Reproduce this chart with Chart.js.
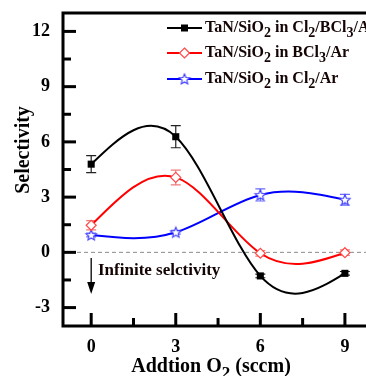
<!DOCTYPE html>
<html>
<head>
<meta charset="utf-8">
<script src="https://cdn.jsdelivr.net/npm/chart.js@4.4.0/dist/chart.umd.min.js"></script>
<style>
html, body { margin: 0; padding: 0; background: #fff; overflow: hidden; }
canvas { display: block; }
</style>
</head>
<body>
<canvas id="chart" width="366" height="376"></canvas>
<script>
// ========== DATA ==========
const o2Flow = [0, 3, 6, 9];
const mixSel = [4.79, 6.28, -1.28, -1.14];
const mixErr = [0.46, 0.6, 0.1, 0.1];
const bcl3Sel = [1.47, 4.07, -0.05, -0.02];
const bcl3Err = [0.25, 0.4, 0.15, 0.15];
const cl2Sel = [0.94, 1.09, 3.12, 2.86];
const cl2Err = [0.1, 0.1, 0.33, 0.29];
const xTicks = [0, 3, 6, 9];
const xMinor = [1.5, 4.5, 7.5];
const yTicks = [-3, 0, 3, 6, 9, 12];
const yMinor = [-1.5, 1.5, 4.5, 7.5, 10.5];
const seriesNames = ['TaN/SiO_2 in Cl_2/BCl_3/Ar', 'TaN/SiO_2 in BCl_3/Ar', 'TaN/SiO_2 in Cl_2/Ar'];

const SERIF = '"Liberation Serif", "Times New Roman", serif';

// ========== MARKERS ==========
function makeStar(r, color) {
  const c = document.createElement('canvas');
  const s = Math.ceil(r * 2 + 3);
  c.width = c.height = s;
  const g = c.getContext('2d');
  g.beginPath();
  for (let k = 0; k < 10; k++) {
    const rr = k % 2 ? r * 0.45 : r;
    const a = -Math.PI / 2 + k * Math.PI / 5;
    g.lineTo(s / 2 + rr * Math.cos(a), s / 2 + 0.5 + rr * Math.sin(a));
  }
  g.closePath();
  g.fillStyle = '#fff';
  g.fill();
  g.strokeStyle = color;
  g.lineWidth = 1.1;
  g.stroke();
  return c;
}
const starImg = makeStar(5.5, '#3a3aff');

const errColors = ['#222', '#f27a7a', '#6a6aff'];
const errValues = [mixErr, bcl3Err, cl2Err];

// ========== HELPERS ==========
function drawRich(ctx, str, x, y, size, align) {
  const bits = str.split(/_(\d)/);
  const sub = Math.round(size * 0.85);
  let total = 0;
  bits.forEach((b, i) => {
    ctx.font = 'bold ' + (i % 2 ? sub : size) + 'px ' + SERIF;
    total += ctx.measureText(b).width;
  });
  let cx = align === 'center' ? x - total / 2 : x;
  ctx.textAlign = 'left';
  ctx.textBaseline = 'alphabetic';
  bits.forEach((b, i) => {
    ctx.font = 'bold ' + (i % 2 ? sub : size) + 'px ' + SERIF;
    ctx.fillText(b, cx, y + (i % 2 ? size * 0.32 : 0));
    cx += ctx.measureText(b).width;
  });
}

function drawMarker(ctx, idx, x, y) {
  ctx.save();
  ctx.lineWidth = 1.2;
  if (idx === 0) {
    ctx.fillStyle = '#000';
    ctx.fillRect(x - 3.5, y - 3.5, 7, 7);
  } else if (idx === 1) {
    ctx.beginPath();
    ctx.moveTo(x, y - 5); ctx.lineTo(x + 5, y); ctx.lineTo(x, y + 5); ctx.lineTo(x - 5, y);
    ctx.closePath();
    ctx.fillStyle = '#fff'; ctx.fill();
    ctx.strokeStyle = '#ff4a4a'; ctx.stroke();
  } else {
    ctx.drawImage(starImg, x - starImg.width / 2, y - starImg.height / 2);
  }
  ctx.restore();
}

// ========== NATURAL SPLINE (sets bezier control points of the line) ==========
function naturalSpline(pts) {
  const n = pts.length;
  const x = pts.map(p => p.x), y = pts.map(p => p.y);
  const h = [], M = new Array(n).fill(0);
  for (let i = 0; i < n - 1; i++) h[i] = x[i + 1] - x[i];
  const a = [], b = [], c = [], d = [];
  for (let i = 1; i < n - 1; i++) {
    a[i] = h[i - 1]; b[i] = 2 * (h[i - 1] + h[i]); c[i] = h[i];
    d[i] = 6 * ((y[i + 1] - y[i]) / h[i] - (y[i] - y[i - 1]) / h[i - 1]);
  }
  for (let i = 2; i < n - 1; i++) {
    const w = a[i] / b[i - 1];
    b[i] -= w * c[i - 1];
    d[i] -= w * d[i - 1];
  }
  for (let i = n - 2; i >= 1; i--) M[i] = (d[i] - c[i] * M[i + 1]) / b[i];
  for (let i = 0; i < n - 1; i++) {
    const s = (y[i + 1] - y[i]) / h[i];
    const m0 = s - h[i] * (2 * M[i] + M[i + 1]) / 6;
    const m1 = s + h[i] * (M[i] + 2 * M[i + 1]) / 6;
    pts[i].cp2x = x[i] + h[i] / 3; pts[i].cp2y = y[i] + m0 * h[i] / 3;
    pts[i + 1].cp1x = x[i + 1] - h[i] / 3; pts[i + 1].cp1y = y[i + 1] - m1 * h[i] / 3;
  }
}

const splinePlugin = {
  id: 'spline',
  beforeDatasetDraw(chart, args) {
    const meta = args.meta;
    meta.dataset.updateControlPoints(chart.chartArea, 'x');
    naturalSpline(meta.data);
    meta.dataset._path = undefined;
  }
};

// ========== ERROR BARS, ZERO LINE, FRAME, TEXT ==========
const decorPlugin = {
  id: 'decor',
  beforeDatasetsDraw(chart) {
    const ctx = chart.ctx, xs = chart.scales.x, ys = chart.scales.y, area = chart.chartArea;
    ctx.save();
    // dashed zero line
    ctx.strokeStyle = '#8a8a8a';
    ctx.lineWidth = 1;
    ctx.setLineDash([4, 3]);
    ctx.beginPath();
    ctx.moveTo(area.left, ys.getPixelForValue(0));
    ctx.lineTo(366, ys.getPixelForValue(0));
    ctx.stroke();
    ctx.setLineDash([]);
    // error bars
    chart.data.datasets.forEach((ds, di) => {
      ctx.strokeStyle = errColors[di];
      ctx.lineWidth = 1.2;
      ds.data.forEach((p, i) => {
        const px = xs.getPixelForValue(p.x);
        const top = ys.getPixelForValue(p.y + errValues[di][i]);
        const bot = ys.getPixelForValue(p.y - errValues[di][i]);
        ctx.beginPath();
        ctx.moveTo(px, top); ctx.lineTo(px, bot);
        ctx.moveTo(px - 5, top); ctx.lineTo(px + 5, top);
        ctx.moveTo(px - 5, bot); ctx.lineTo(px + 5, bot);
        ctx.stroke();
      });
    });
    ctx.restore();
  },
  afterDraw(chart) {
    const ctx = chart.ctx, xs = chart.scales.x, ys = chart.scales.y, area = chart.chartArea;
    ctx.save();
    ctx.strokeStyle = '#000';
    ctx.fillStyle = '#000';
    // frame
    ctx.lineWidth = 3;
    ctx.beginPath();
    ctx.moveTo(366, area.top);
    ctx.lineTo(area.left, area.top);
    ctx.lineTo(area.left, area.bottom);
    ctx.lineTo(366, area.bottom);
    ctx.stroke();
    // inward ticks
    yTicks.forEach(v => {
      const py = ys.getPixelForValue(v);
      ctx.beginPath(); ctx.moveTo(area.left, py); ctx.lineTo(area.left + 13, py); ctx.stroke();
    });
    yMinor.forEach(v => {
      const py = ys.getPixelForValue(v);
      ctx.beginPath(); ctx.moveTo(area.left, py); ctx.lineTo(area.left + 8, py); ctx.stroke();
    });
    xTicks.forEach(v => {
      const px = xs.getPixelForValue(v);
      ctx.beginPath(); ctx.moveTo(px, area.bottom); ctx.lineTo(px, area.bottom - 13); ctx.stroke();
    });
    xMinor.forEach(v => {
      const px = xs.getPixelForValue(v);
      ctx.beginPath(); ctx.moveTo(px, area.bottom); ctx.lineTo(px, area.bottom - 8); ctx.stroke();
    });

    // axis titles
    drawRich(ctx, 'Addtion O_2 (sccm)', 211, 372, 20, 'center');
    ctx.save();
    ctx.translate(29, 150);
    ctx.rotate(-Math.PI / 2);
    drawRich(ctx, 'Selectivity', 0, 0, 20, 'center');
    ctx.restore();

    // infinite selectivity note
    const ax = xs.getPixelForValue(0);
    ctx.lineWidth = 1.3;
    ctx.beginPath(); ctx.moveTo(ax, 258); ctx.lineTo(ax, 284); ctx.stroke();
    ctx.beginPath(); ctx.moveTo(ax - 4, 282); ctx.lineTo(ax + 4, 282); ctx.lineTo(ax, 294); ctx.closePath(); ctx.fill();
    ctx.fillStyle = '#140404';
    drawRich(ctx, 'Infinite selctivity', 98, 275, 17, 'left');

    // legend
    const rows = [28, 53, 79];
    chart.data.datasets.forEach((ds, i) => {
      ctx.strokeStyle = ds.borderColor;
      ctx.lineWidth = 2;
      ctx.beginPath(); ctx.moveTo(167, rows[i]); ctx.lineTo(202, rows[i]); ctx.stroke();
      drawMarker(ctx, i, 184.5, rows[i]);
      ctx.fillStyle = '#140404';
      drawRich(ctx, seriesNames[i], 205, rows[i] + 4, 16, 'left');
    });
    ctx.restore();
  }
};

// ========== CHART ==========
const toPoints = vals => vals.map((v, i) => ({ x: o2Flow[i], y: v }));

new Chart(document.getElementById('chart'), {
  type: 'line',
  data: {
    datasets: [
      {
        data: toPoints(mixSel), borderColor: '#000', borderWidth: 2, tension: 0.4,
        pointStyle: 'rect', pointRadius: 5, pointBackgroundColor: '#000', pointBorderColor: '#000', pointBorderWidth: 0
      },
      {
        data: toPoints(bcl3Sel), borderColor: '#ff0000', borderWidth: 2, tension: 0.4,
        pointStyle: 'rectRot', pointRadius: 5, pointBackgroundColor: '#fff', pointBorderColor: '#ff4a4a', pointBorderWidth: 1.2
      },
      {
        data: toPoints(cl2Sel), borderColor: '#0000ff', borderWidth: 2, tension: 0.4,
        pointStyle: starImg, pointRadius: 5
      }
    ]
  },
  options: {
    responsive: false,
    animation: false,
    devicePixelRatio: 1,
    layout: { padding: { top: 13, right: 0, left: 0, bottom: 0 } },
    plugins: { legend: { display: false }, tooltip: { enabled: false } },
    scales: {
      x: {
        type: 'linear', min: -1, max: 9.5,
        grid: { display: false, drawTicks: false },
        border: { display: false },
        ticks: { color: '#000', padding: 11, maxRotation: 0, autoSkip: false,
                 font: { family: SERIF, size: 18, weight: 'bold' } },
        afterBuildTicks: s => { s.ticks = xTicks.map(v => ({ value: v })); },
        afterFit: s => { s.height = 50; s.paddingLeft = 0; s.paddingRight = 0; }
      },
      y: {
        type: 'linear', min: -4, max: 13,
        grid: { display: false, drawTicks: false },
        border: { display: false },
        ticks: { color: '#000', padding: 13,
                 font: { family: SERIF, size: 18, weight: 'bold' } },
        afterBuildTicks: s => { s.ticks = yTicks.map(v => ({ value: v })); },
        afterFit: s => { s.width = 63; s.paddingTop = 0; s.paddingBottom = 0; }
      }
    }
  },
  plugins: [splinePlugin, decorPlugin]
});
</script>
</body>
</html>
